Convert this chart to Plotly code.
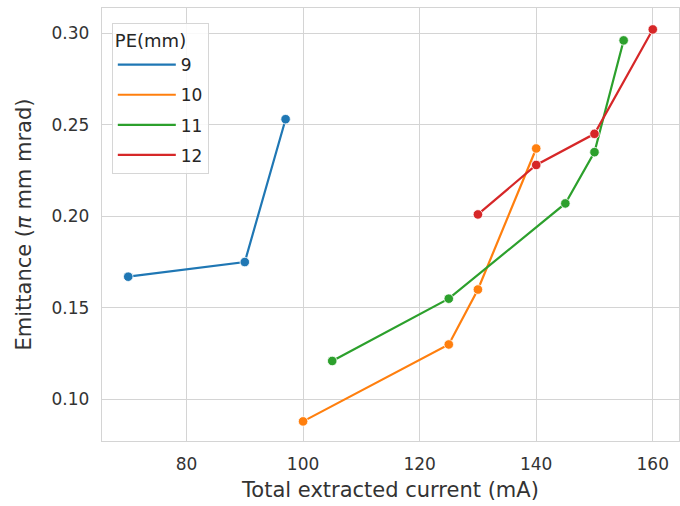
import plotly.graph_objects as go

pe_labels = ["9", "10", "11", "12"]
colors = ["#1f77b4", "#ff7f0e", "#2ca02c", "#d62728"]
current = {
    "9": [70, 90, 97],
    "10": [100, 125, 130, 140],
    "11": [105, 125, 145, 150, 155],
    "12": [130, 140, 150, 160],
}
emittance = {
    "9": [0.167, 0.175, 0.253],
    "10": [0.088, 0.130, 0.160, 0.237],
    "11": [0.121, 0.155, 0.207, 0.235, 0.296],
    "12": [0.201, 0.228, 0.245, 0.302],
}
x_ticks = [80, 100, 120, 140, 160]
y_ticks = [0.10, 0.15, 0.20, 0.25, 0.30]

fig = go.Figure()
for lab, col in zip(pe_labels, colors):
    fig.add_trace(go.Scatter(
        x=current[lab], y=emittance[lab], name=lab, legendgroup=lab,
        mode="lines", line=dict(color=col, width=2.2),
    ))
    fig.add_trace(go.Scatter(
        x=current[lab], y=emittance[lab], name=lab, legendgroup=lab,
        mode="markers", showlegend=False,
        marker=dict(color=col, size=9.5, line=dict(color="white", width=0.8)),
    ))

grid = "#d4d4d4"
font = "DejaVu Sans, Liberation Sans, sans-serif"
txt = "#333333"
fig.update_layout(
    width=680, height=506,
    margin=dict(l=102, r=1, t=8, b=65),
    paper_bgcolor="white", plot_bgcolor="white",
    font=dict(family=font, color=txt, size=17),
    showlegend=True,
    legend=dict(
        title=dict(text="PE(mm)", font=dict(size=18, color="#262626")),
        x=0.017, y=0.966, xanchor="left", yanchor="top",
        bgcolor="rgba(255,255,255,0.85)", bordercolor="#d6d6d6", borderwidth=1,
        font=dict(size=17, color="#262626"),
        itemwidth=58, tracegroupgap=5,
    ),
    xaxis=dict(
        range=[65.5, 164.5], tickvals=x_ticks, ticktext=[str(v) for v in x_ticks],
        showgrid=True, gridcolor=grid, gridwidth=1.4, zeroline=False,
        showline=True, linecolor=grid, linewidth=1.4, mirror=True,
        ticks="", ticklabelstandoff=7,
        tickfont=dict(size=17, color=txt),
        title=dict(text="Total extracted current (mA)", font=dict(size=21, color=txt), standoff=9),
    ),
    yaxis=dict(
        range=[0.0773, 0.3137], tickvals=y_ticks, ticktext=[f"{v:.2f}" for v in y_ticks],
        showgrid=True, gridcolor=grid, gridwidth=1.4, zeroline=False,
        showline=True, linecolor=grid, linewidth=1.4, mirror=True,
        ticks="", ticklabelstandoff=8,
        tickfont=dict(size=17, color=txt),
        title=dict(text="Emittance (<i>π</i> mm mrad)", font=dict(size=21, color=txt), standoff=14),
    ),
)
fig.write_html("out.html")
